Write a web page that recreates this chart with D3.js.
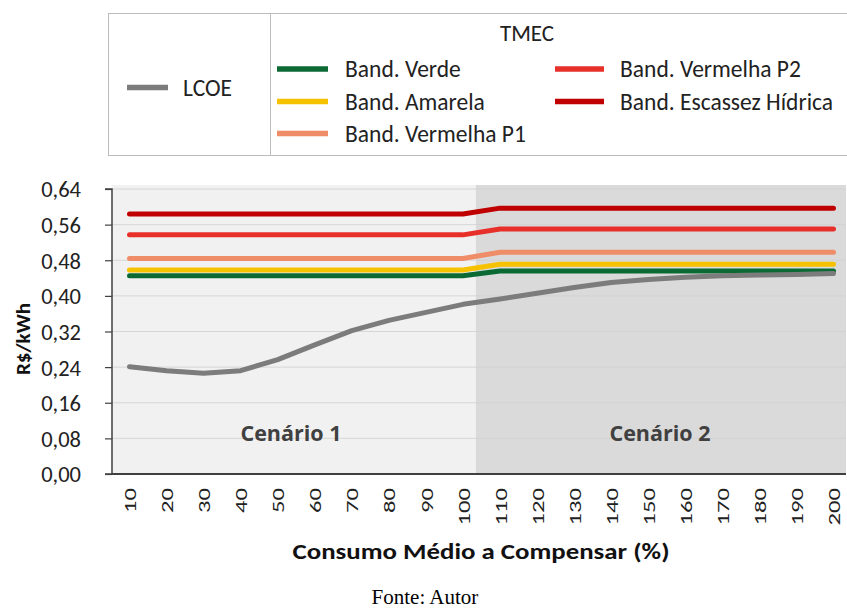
<!DOCTYPE html>
<html>
<head>
<meta charset="utf-8">
<script src="https://cdn.jsdelivr.net/npm/d3@7"></script>
<style>
  html, body { margin: 0; padding: 0; background: #fff; }
  svg { display: block; }
  .sans { font-family: Carlito, Lato, "Open Sans", sans-serif; }
</style>
</head>
<body>
<svg id="chart" width="847" height="609"></svg>
<script>
// Consumption to offset (% of average), LCOE and TMEC tariff curves (R$/kWh)
const categories = [10,20,30,40,50,60,70,80,90,100,110,120,130,140,150,160,170,180,190,200];
const lcoe          = [0.241,0.232,0.226,0.232,0.257,0.290,0.322,0.345,0.363,0.381,0.393,0.406,0.419,0.430,0.437,0.442,0.445,0.447,0.448,0.450];
const bandVerde     = [0.445,0.445,0.445,0.445,0.445,0.445,0.445,0.445,0.445,0.445,0.456,0.456,0.456,0.456,0.456,0.456,0.456,0.456,0.456,0.456];
const bandAmarela   = [0.458,0.458,0.458,0.458,0.458,0.458,0.458,0.458,0.458,0.458,0.471,0.471,0.471,0.471,0.471,0.471,0.471,0.471,0.471,0.471];
const bandVermP1    = [0.484,0.484,0.484,0.484,0.484,0.484,0.484,0.484,0.484,0.484,0.498,0.498,0.498,0.498,0.498,0.498,0.498,0.498,0.498,0.498];
const bandVermP2    = [0.537,0.537,0.537,0.537,0.537,0.537,0.537,0.537,0.537,0.537,0.550,0.550,0.550,0.550,0.550,0.550,0.550,0.550,0.550,0.550];
const bandEscassez  = [0.584,0.584,0.584,0.584,0.584,0.584,0.584,0.584,0.584,0.584,0.597,0.597,0.597,0.597,0.597,0.597,0.597,0.597,0.597,0.597];
const yTicks = [0,0.08,0.16,0.24,0.32,0.40,0.48,0.56,0.64];
const scenarioLabels = ["Cenário 1", "Cenário 2"];

const series = [
  { name: "Band. Verde",             values: bandVerde,    color: "#0b6a34" },
  { name: "Band. Amarela",           values: bandAmarela,  color: "#f6c200" },
  { name: "Band. Vermelha P1",       values: bandVermP1,   color: "#ef8d68" },
  { name: "Band. Vermelha P2",       values: bandVermP2,   color: "#e8302b" },
  { name: "Band. Escassez Hídrica",  values: bandEscassez, color: "#c00000" },
  { name: "LCOE",                    values: lcoe,         color: "#7c7c7c" }
];

const svg = d3.select("#chart");
const plot = { left: 112, right: 846, top: 185, bottom: 474 };

const x = d3.scalePoint().domain(categories).range([129.5, 833.5]);
const y = d3.scaleLinear().domain([0, 0.64]).range([plot.bottom, 189]);
const step = x.step();

// Scenario backgrounds: up to 100% and above 100%
const split = x(100) + step * 0.35;
svg.append("rect").attr("x", plot.left).attr("y", plot.top)
  .attr("width", split - plot.left).attr("height", plot.bottom - plot.top).attr("fill", "#f1f1f1");
svg.append("rect").attr("x", split).attr("y", plot.top)
  .attr("width", plot.right - split).attr("height", plot.bottom - plot.top).attr("fill", "#dadada");

// Horizontal gridlines
svg.append("g").selectAll("line").data(yTicks.slice(1)).join("line")
  .attr("x1", plot.left).attr("x2", split)
  .attr("y1", d => y(d)).attr("y2", d => y(d))
  .attr("stroke", "#d6d6d6").attr("stroke-width", 1);
svg.append("g").selectAll("line").data(yTicks.slice(1)).join("line")
  .attr("x1", split).attr("x2", plot.right)
  .attr("y1", d => y(d)).attr("y2", d => y(d))
  .attr("stroke", "#d2d2d2").attr("stroke-width", 1);

// Scenario labels
svg.append("g").selectAll("text").data(scenarioLabels).join("text")
  .attr("x", (d, i) => i === 0 ? (plot.left + split) / 2 - 3 : (split + plot.right) / 2 - 1)
  .attr("y", 441)
  .attr("text-anchor", "middle")
  .attr("font-family", "'Open Sans', sans-serif")
  .attr("font-weight", 700).attr("font-size", 21.5)
  .attr("fill", "#404040")
  .text(d => d);

// Curves
const line = d3.line().x((d, i) => x(categories[i])).y(d => y(d));
svg.append("g").selectAll("path").data(series).join("path")
  .attr("d", d => line(d.values))
  .attr("fill", "none")
  .attr("stroke", d => d.color)
  .attr("stroke-width", 5)
  .attr("stroke-linejoin", "round")
  .attr("stroke-linecap", "round");

// Y axis
const yAxis = svg.append("g").attr("transform", `translate(${plot.left},0)`)
  .call(d3.axisLeft(y).tickValues(yTicks).tickSize(7)
    .tickFormat(d => d3.format(".2f")(d).replace(".", ",")));
yAxis.select(".domain").attr("stroke", "#404040").attr("stroke-width", 1.5)
  .attr("d", `M-7,${y(0.64)}H0V${plot.bottom}H-7`);
yAxis.selectAll(".tick line").attr("stroke", "#404040").attr("stroke-width", 1.2);
yAxis.selectAll(".tick text").attr("class", "sans").attr("font-size", 22.5)
  .attr("fill", "#222").attr("dy", "0.35em").attr("x", -31)
  .attr("text-anchor", "end");

// X axis, category labels set vertically and drawn tall
const labelStretch = 1.45;
const xAxis = svg.append("g").attr("transform", `translate(0,${plot.bottom})`)
  .call(d3.axisBottom(x).tickSize(0).tickPadding(0));
xAxis.select(".domain").attr("stroke", "#404040").attr("stroke-width", 2)
  .attr("d", `M${plot.left},0H${plot.right}`);
xAxis.selectAll(".tick text").attr("class", "sans").attr("font-size", 17)
  .attr("fill", "#222")
  .attr("transform", `rotate(-90) scale(${labelStretch},1)`)
  .attr("text-anchor", "end")
  .attr("x", -14 / labelStretch).attr("y", 0).attr("dy", "0.36em");

// Axis titles
svg.append("text").attr("class", "sans")
  .attr("transform", "translate(30,339) rotate(-90)")
  .attr("text-anchor", "middle").attr("font-weight", 700).attr("font-size", 21)
  .attr("textLength", 72).attr("lengthAdjust", "spacingAndGlyphs")
  .attr("fill", "#111").text("R$/kWh");
svg.append("text").attr("class", "sans")
  .attr("x", 481).attr("y", 559)
  .attr("text-anchor", "middle").attr("font-weight", 700).attr("font-size", 23)
  .attr("textLength", 377).attr("lengthAdjust", "spacingAndGlyphs")
  .attr("fill", "#111").text("Consumo Médio a Compensar (%)");

// Source note
svg.append("text")
  .attr("x", 425).attr("y", 604)
  .attr("text-anchor", "middle")
  .attr("font-family", "'Liberation Serif', 'Times New Roman', serif")
  .attr("font-size", 21).attr("fill", "#000").text("Fonte: Autor");

// Legend
const lg = svg.append("g");
lg.append("rect").attr("x", 108.5).attr("y", 13.5).attr("width", 760).attr("height", 142)
  .attr("fill", "#fff").attr("stroke", "#bcbcbc").attr("stroke-width", 1);
lg.append("line").attr("x1", 270.5).attr("x2", 270.5).attr("y1", 13.5).attr("y2", 155.5)
  .attr("stroke", "#bcbcbc");
lg.append("text").attr("class", "sans").attr("x", 527).attr("y", 33).attr("dy", "0.35em")
  .attr("text-anchor", "middle").attr("font-size", 23).attr("fill", "#222").text("TMEC");

const legendItems = [
  { s: series[5], lx: 127, ly: 87.5, len: 41, gap: 56 },
  { s: series[0], lx: 277, ly: 69,   len: 51, gap: 68 },
  { s: series[1], lx: 277, ly: 101.5, len: 51, gap: 68 },
  { s: series[2], lx: 277, ly: 133.5, len: 51, gap: 68 },
  { s: series[3], lx: 555, ly: 69,   len: 49, gap: 65 },
  { s: series[4], lx: 555, ly: 101.5, len: 49, gap: 65 }
];
const li = lg.selectAll("g.item").data(legendItems).join("g").attr("class", "item");
li.append("line")
  .attr("x1", d => d.lx).attr("x2", d => d.lx + d.len)
  .attr("y1", d => d.ly).attr("y2", d => d.ly)
  .attr("stroke", d => d.s.color).attr("stroke-width", 5.5);
li.append("text").attr("class", "sans")
  .attr("x", d => d.lx + d.gap)
  .attr("y", d => d.ly).attr("dy", "0.35em")
  .attr("font-size", 23.5).attr("fill", "#222")
  .text(d => d.s.name);
</script>
</body>
</html>
